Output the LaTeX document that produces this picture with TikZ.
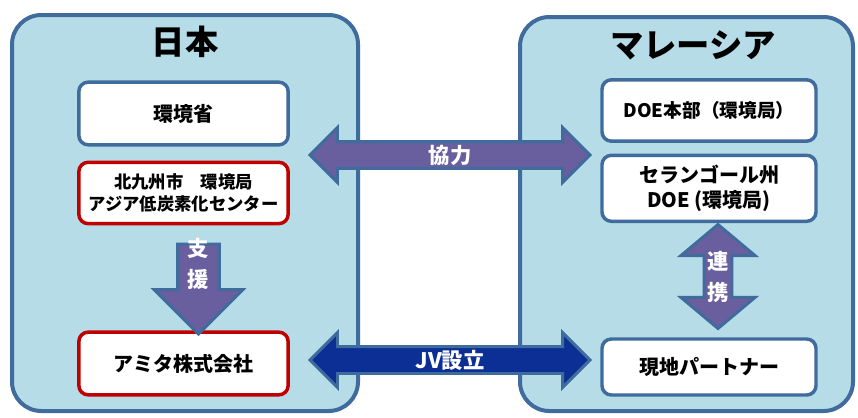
\documentclass[tikz,border=0pt]{standalone}
\usepackage{fontspec}
\setmainfont{Noto Sans CJK JP}
\usetikzlibrary{positioning}
\usetikzlibrary{shapes.arrows}
\definecolor{panelblue}{HTML}{B5DCE7}
\definecolor{edgeblue}{HTML}{3F6B9D}
\definecolor{boxred}{HTML}{C00000}
\definecolor{arrowpurple}{HTML}{695E9E}
\definecolor{arrownavy}{HTML}{0B2F95}

\begin{document}
\begin{tikzpicture}[x=0.75pt,y=-0.75pt,
  panel/.style={draw=edgeblue,line width=3pt,fill=panelblue,
   rounded corners=22pt},
  title/.style={font=\bfseries\fontsize{25}{28}\selectfont},
  org box/.style={draw=edgeblue,line width=2.6pt,fill=white,
   rounded corners=7pt,align=center,
   minimum width=157pt,minimum height=47pt,
   font=\bfseries\fontsize{15}{19}\selectfont},
  red box/.style={org box,draw=boxred},
  wide arrow/.style={double arrow,draw=edgeblue,line width=2.2pt,
   double arrow head extend=10.5pt,inner xsep=0pt,inner ysep=9pt,
   minimum height=210pt},
  arrow label/.style={text=white,align=center,
   font=\bfseries\fontsize{16}{23}\selectfont}]

 \node[panel, minimum width=259.5pt, minimum height=297pt] (japan) at (185,213){};
 \node[panel, minimum width=249.75pt, minimum height=295.5pt] (malaysia) at (686.5,214){};
 \node[title] (labjapan) at (185,42){日本};
 \node[title] (labmalaysia) at (693,45){マレーシア};

 \node[org box] (moe) at (183.5,113.5){環境省};
 \node[red box, below = 10.5pt of moe, minimum height=46pt,
  font=\bfseries\fontsize{13}{16}\selectfont] (kitaq){北九州市\quad 環境局\\アジア低炭素化センター};
 \node[red box] (amita) at (183.5,363.5){アミタ株式会社};

 \node[org box, minimum width=160.5pt, minimum height=46pt,
  font=\bfseries\fontsize{14}{18}\selectfont] (doe) at (709,110.5){DOE本部（環境局）};
 \node[org box, below = 8pt of doe, minimum width=160.5pt, minimum height=49.5pt] (selangor){セランゴール州\\DOE (環境局)};
 \node[org box, minimum width=160.5pt, minimum height=42pt] (partner) at (709,367){現地パートナー};

 \node[single arrow, rotate=-90, draw=edgeblue, line width=2.2pt, fill=arrowpurple,
  single arrow head extend=17.6pt, inner xsep=0pt, inner ysep=14.6pt,
  minimum height=67.5pt] (support) at (198.5,278.5){};
 \node[arrow label] (labsupport) at (198.5,264){支\\援};

 \node[double arrow, rotate=90, draw=edgeblue, line width=2.2pt, fill=arrowpurple,
  double arrow head extend=17.25pt, double arrow tip angle=100,
  inner xsep=0pt, inner ysep=9.4pt, minimum height=78pt] (link) at (718,276.5){};
 \node[arrow label] (lablink) at (718,277){連\\携};

 \node[wide arrow, fill=arrowpurple] (coop) at (450,155){};
 \node[arrow label] (labcoop) at (coop){協力};
 \node[wide arrow, fill=arrownavy] (jv) at (450,360){};
 \node[arrow label] (labjv) at (jv){JV設立};

 \useasboundingbox (0,0) rectangle (858,418);
\end{tikzpicture}
\end{document}
